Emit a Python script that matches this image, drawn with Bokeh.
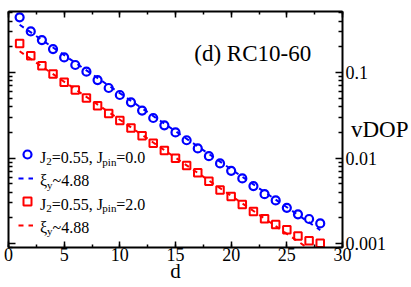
import math
from bokeh.plotting import figure
from bokeh.models import (LinearAxis, LogAxis, FixedTicker, SingleIntervalTicker,
                          Range1d, Label, Legend, LegendItem)
from bokeh.embed import file_html
from bokeh.resources import INLINE

# ---------------- data ----------------
d = list(range(1, 29))
vdop_jpin0 = [0.444, 0.304, 0.241, 0.189, 0.151, 0.123, 0.1028, 0.0820, 0.0662, 0.0548,
              0.0450, 0.0360, 0.0295, 0.0242, 0.0200, 0.0162, 0.0130, 0.01054, 0.00867,
              0.00710, 0.00579, 0.00471, 0.00379, 0.00320, 0.00262, 0.00220, 0.00194, 0.00172]
vdop_jpin2 = [0.220, 0.158, 0.1208, 0.0966, 0.0771, 0.0628, 0.0506, 0.0411, 0.0334, 0.0275,
              0.0225, 0.0183, 0.0149, 0.01225, 0.00995, 0.00818, 0.00676, 0.00536, 0.00425,
              0.00355, 0.00286, 0.00237, 0.00195, 0.00167, 0.00145, 0.00123, 0.00108, 0.00101]
fit_d = [1, 28]
fit_jpin0 = [0.364, 0.00144]
fit_jpin2 = [0.178, 0.000705]

x_major = [0, 5, 10, 15, 20, 25, 30]
y_major = [0.001, 0.01, 0.1]
y_labels = ["0.001", "0.01", "0.1"]
y_minor = [k * 10.0 ** e for e in range(-4, 0) for k in range(2, 10)]

X_MIN, X_MAX = 0, 30
Y_MIN, Y_MAX = 0.0009, 0.52

BLUE = "#0000ff"
RED = "#ff0000"
FONT = "Liberation Serif"

# ---------------- layout ----------------
W, H = 411, 287
BL, BR, BT, BB = 8, 65, 11, 40
FW = W - BL - BR
FH = H - BT - BB


def px_to_data(ix, iy):
    """canvas pixel -> data coordinates"""
    fx = ix - BL
    fy = iy - BT
    x = X_MIN + fx / FW * (X_MAX - X_MIN)
    ly = math.log10(Y_MAX) - fy / FH * (math.log10(Y_MAX) - math.log10(Y_MIN))
    return x, 10 ** ly


p = figure(width=W, height=H,
           x_range=Range1d(X_MIN, X_MAX), y_range=Range1d(Y_MIN, Y_MAX),
           y_axis_type="log", output_backend="svg", toolbar_location=None,
           min_border_left=BL, min_border_right=BR, min_border_top=BT, min_border_bottom=BB)
p.xgrid.visible = False
p.ygrid.visible = False
p.outline_line_color = None
p.background_fill_color = "white"
p.border_fill_color = "white"


def style_axis(ax, labels=True):
    ax.axis_line_color = "black"
    ax.axis_line_width = 2
    ax.major_tick_line_color = "black"
    ax.minor_tick_line_color = "black"
    ax.major_tick_line_width = 1.5
    ax.minor_tick_line_width = 1.5
    ax.major_tick_out = 0
    ax.minor_tick_out = 0
    ax.major_label_text_font = FONT
    ax.major_label_text_color = "black"
    ax.axis_label_text_font = FONT
    ax.axis_label_text_font_style = "normal"
    ax.axis_label_text_color = "black"
    if labels:
        ax.major_label_text_font_size = "18px"
        ax.major_label_standoff = 3
    else:
        ax.major_label_text_font_size = "0px"
        ax.major_label_standoff = 0


# x axes
xb = p.xaxis[0]
xb.ticker = SingleIntervalTicker(interval=5, num_minor_ticks=2)
style_axis(xb)
xb.major_tick_in = 6
xb.minor_tick_in = 3
xb.major_label_standoff = 0
xb.axis_label = "d"
xb.axis_label_text_font_size = "21px"
xb.axis_label_standoff = -5

xt = LinearAxis(ticker=SingleIntervalTicker(interval=5, num_minor_ticks=2))
style_axis(xt, labels=False)
xt.major_tick_in = 6
xt.minor_tick_in = 3
xt.major_label_overrides = {v: "" for v in x_major}
p.add_layout(xt, "above")

# y axes
yl = p.yaxis[0]
yl.ticker = FixedTicker(ticks=y_major, minor_ticks=y_minor)
style_axis(yl, labels=False)
yl.major_tick_in = 7
yl.minor_tick_in = 4
yl.major_label_overrides = {v: "" for v in y_major}

yr = LogAxis(ticker=FixedTicker(ticks=y_major, minor_ticks=y_minor))
style_axis(yr)
yr.major_tick_in = 7
yr.minor_tick_in = 4
yr.major_label_overrides = {v: t for v, t in zip(y_major, y_labels)}
yr.axis_label = "vDOP"
yr.axis_label_text_font_size = "23px"
try:
    yr.axis_label_orientation = "horizontal"
    yr.axis_label_standoff = -38
except Exception:
    yr.axis_label_standoff = 2
p.add_layout(yr, "right")

# ---------------- data marks ----------------
l0 = p.line(fit_d, fit_jpin0, line_color=BLUE, line_width=2, line_dash="5 5")
l2 = p.line(fit_d, fit_jpin2, line_color=RED, line_width=2, line_dash="5 5")
s0 = p.scatter(d, vdop_jpin0, marker="circle", size=8, fill_color=None,
               line_color=BLUE, line_width=2.2)
s2 = p.scatter(d, vdop_jpin2, marker="square", size=7.5, fill_color=None,
               line_color=RED, line_width=2)

# ---------------- legend icons ----------------
leg_m = Legend(items=[LegendItem(label=" ", renderers=[s0]),
                      LegendItem(label=" ", renderers=[s2])],
               location=(9, 36), glyph_width=20, glyph_height=20, label_height=20,
               spacing=27, padding=0, margin=0, label_text_font_size="1px",
               border_line_color=None, background_fill_alpha=0, label_standoff=0)
leg_l = Legend(items=[LegendItem(label=" ", renderers=[l0]),
                      LegendItem(label=" ", renderers=[l2])],
               location=(10, 12), glyph_width=15, glyph_height=20, label_height=20,
               spacing=27, padding=0, margin=0, label_text_font_size="1px",
               border_line_color=None, background_fill_alpha=0, label_standoff=0)
p.add_layout(leg_m)
p.add_layout(leg_l)

# ---------------- texts ----------------
W_EM = {'J': 0.389, '2': 0.5, '=': 0.564, '0': 0.5, '.': 0.25, '5': 0.5, ',': 0.25,
        ' ': 0.25, 'p': 0.5, 'i': 0.278, 'n': 0.5, 'y': 0.5, '~': 0.541, '4': 0.5,
        '8': 0.5, '\u03be': 0.44}


def rich(ix, baseline, parts, main=16, sub=11):
    for text, is_sub in parts:
        size = sub if is_sub else main
        yb = baseline + (4 if is_sub else 0)
        x, y = px_to_data(ix, yb)
        p.add_layout(Label(x=x, y=y, text=text, text_font=FONT, text_font_size=f"{size}px",
                           text_color="black", text_baseline="alphabetic", text_align="left"))
        ix += sum(W_EM.get(c, 0.5) for c in text) * size


rich(40, 157, [("J", False), ("2", True), ("=0.55, J", False), ("pin", True), ("=0.0", False)])
rich(40, 180.3, [("\u03be", False), ("y", True), ("~4.88", False)])
rich(40, 203.5, [("J", False), ("2", True), ("=0.55, J", False), ("pin", True), ("=2.0", False)])
rich(40, 226.7, [("\u03be", False), ("y", True), ("~4.88", False)])

x, y = px_to_data(196, 53.3)
p.add_layout(Label(x=x, y=y, text="(d) RC10-60", text_font=FONT, text_font_size="23px",
                   text_color="black", text_baseline="alphabetic", text_align="left"))

open("out.html", "w").write(file_html(p, INLINE))
